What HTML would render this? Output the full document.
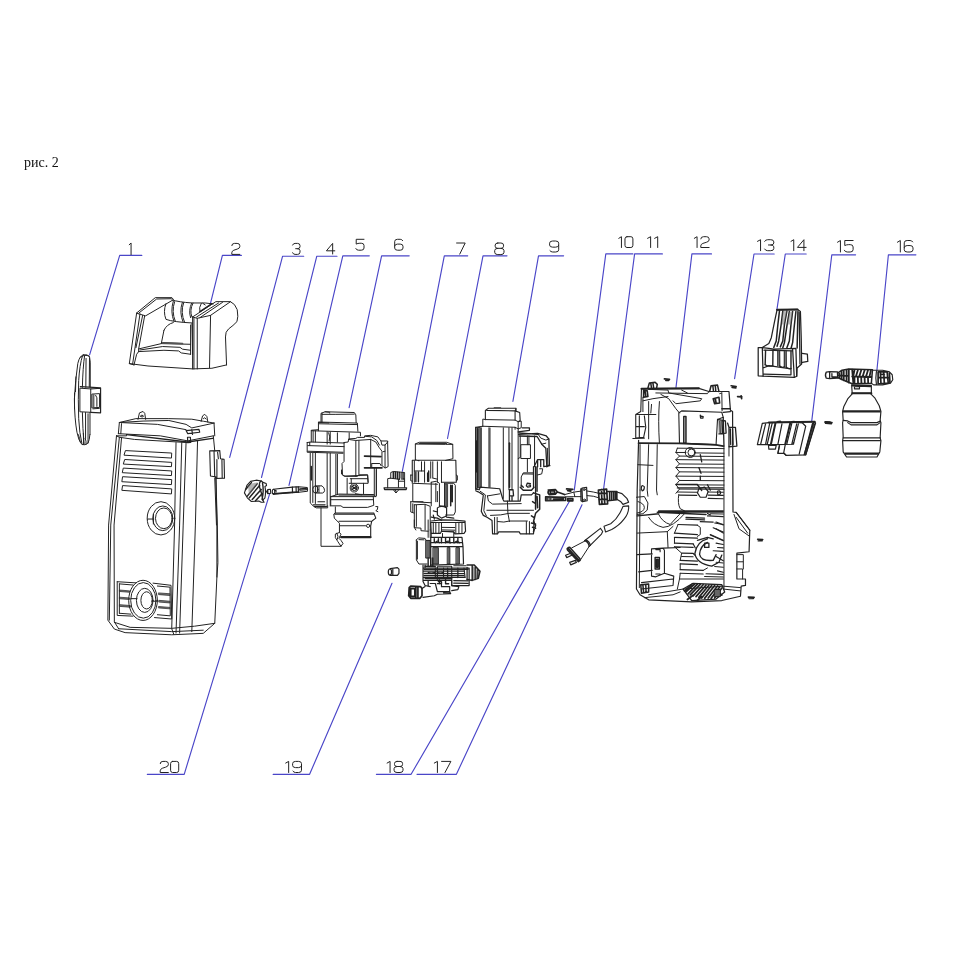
<!DOCTYPE html>
<html><head><meta charset="utf-8"><title>рис. 2</title>
<style>
html,body{margin:0;padding:0;background:#fff;}
body{width:976px;height:976px;overflow:hidden;position:relative;font-family:"Liberation Serif",serif;}
.cap{position:absolute;left:24px;top:152.5px;will-change:transform;font-size:14px;line-height:20px;color:#111;white-space:nowrap;}
svg{position:absolute;left:0;top:0;}
.dg path{vector-effect:non-scaling-stroke;}
.p path,.p line,.p polyline,.p ellipse,.p rect,.p circle,.p polygon{vector-effect:non-scaling-stroke;}
</style></head><body>
<div class="cap">рис. 2</div>
<svg width="976" height="976" viewBox="0 0 976 976">
<g fill="none" stroke="#4a46c8" stroke-width="1.15" stroke-linecap="round" stroke-linejoin="round">
<polyline points="141.8,255.4 119.7,255.4 89.6,354.8"/>
<polyline points="241.4,255.4 222.4,255.4 210.3,304.1"/>
<polyline points="303.7,256.2 282.6,256.2 229.7,457.4"/>
<polyline points="337.0,256.2 316.8,256.2 261.5,477.5"/>
<polyline points="369.3,255.8 342.8,255.8 289.0,485.4"/>
<polyline points="409.2,255.8 381.6,255.8 349.1,407.6"/>
<polyline points="467.7,255.8 444.3,255.8 402.3,471.3"/>
<polyline points="507.0,255.8 483.0,255.8 447.5,438.5"/>
<polyline points="563.6,255.8 538.5,255.8 512.9,401.4"/>
<polyline points="632.9,253.9 605.8,253.9 574.3,490.2"/>
<polyline points="662.4,253.9 634.6,253.9 603.6,489.0"/>
<polyline points="711.5,253.9 691.9,253.9 676.0,387.4"/>
<polyline points="774.2,254.0 754.0,254.0 734.6,378.7"/>
<polyline points="806.2,254.0 785.3,254.0 776.9,309.7"/>
<polyline points="855.6,254.8 831.8,254.8 811.7,421.4"/>
<polyline points="915.9,254.8 888.4,254.8 876.9,370.2"/>
<polyline points="147.3,774.3 184.2,774.3 269.8,493.3"/>
<polyline points="273.1,774.3 309.6,774.3 392.0,583.3"/>
<polyline points="376.4,774.3 411.1,774.3 570.2,500.0"/>
<polyline points="417.0,774.3 456.4,774.3 582.0,504.8"/>
</g>
<g fill="none" stroke="#222222" stroke-width="1" stroke-linecap="round" stroke-linejoin="round" class="dg">
<path transform="translate(128.27,243.00) scale(0.9333,1.1600)" d="M1,1.5 L3,0 L3,10"/>
<path transform="translate(231.80,243.40) scale(1.3333,1.1000)" d="M0,2 Q0,0 2,0 L4,0 Q6,0 6,2 L6,3 Q6,4.5 4,5.2 L1.5,6.2 Q0,7 0,8.5 L0,10 L6,10"/>
<path transform="translate(292.60,243.40) scale(1.2333,1.1000)" d="M0,1.5 Q0.5,0 2,0 L4,0 Q6,0 6,2 L6,3 Q6,4.8 4,4.8 L2.5,4.8 M4,4.8 Q6,4.8 6,6.5 L6,8 Q6,10 4,10 L2,10 Q0.5,10 0,8.5"/>
<path transform="translate(326.40,243.40) scale(1.3333,1.0600)" d="M4.7,10 L4.7,0 L0,7 L6.3,7"/>
<path transform="translate(355.80,239.30) scale(1.3667,1.0900)" d="M6,0 L0.3,0 L0.3,4.4 Q1.5,3.6 3,3.6 L4,3.6 Q6,3.6 6,5.6 L6,8 Q6,10 4,10 L2,10 Q0.4,10 0,8.5"/>
<path transform="translate(394.70,239.30) scale(1.3833,1.0900)" d="M5.8,1.2 Q5.2,0 4,0 L2,0 Q0,0 0,2 L0,8 Q0,10 2,10 L4,10 Q6,10 6,8 L6,6.4 Q6,4.4 4,4.4 L2,4.4 Q0.3,4.4 0,6"/>
<path transform="translate(456.60,243.00) scale(1.4333,1.1100)" d="M0,0 L6,0 L2.2,10"/>
<path transform="translate(494.70,243.00) scale(1.5500,1.1600)" d="M2,0 L4,0 Q5.7,0 5.7,1.8 L5.7,2.8 Q5.7,4.6 4,4.6 L2,4.6 Q0.3,4.6 0.3,2.8 L0.3,1.8 Q0.3,0 2,0 Z M2,4.6 Q0,4.6 0,6.5 L0,8 Q0,10 2,10 L4,10 Q6,10 6,8 L6,6.5 Q6,4.6 4,4.6"/>
<path transform="translate(549.60,241.00) scale(1.5167,1.1000)" d="M0.2,8.8 Q0.8,10 2,10 L4,10 Q6,10 6,8 L6,2 Q6,0 4,0 L2,0 Q0,0 0,2 L0,3.6 Q0,5.6 2,5.6 L4,5.6 Q5.7,5.6 6,4"/>
<path transform="translate(617.48,236.70) scale(1.3202,1.0800)" d="M1,1.5 L3,0 L3,10"/>
<path transform="translate(624.98,236.70) scale(1.3202,1.0800)" d="M1.5,0 L4.5,0 Q6,0 6,2 L6,8 Q6,10 4.5,10 L1.5,10 Q0,10 0,8 L0,2 Q0,0 1.5,0 Z"/>
<path transform="translate(646.09,236.70) scale(1.5104,1.0800)" d="M1,1.5 L3,0 L3,10"/>
<path transform="translate(653.16,236.70) scale(1.5104,1.0800)" d="M1,1.5 L3,0 L3,10"/>
<path transform="translate(692.91,236.70) scale(1.3858,1.0800)" d="M1,1.5 L3,0 L3,10"/>
<path transform="translate(700.79,236.70) scale(1.3858,1.0800)" d="M0,2 Q0,0 2,0 L4,0 Q6,0 6,2 L6,3 Q6,4.5 4,5.2 L1.5,6.2 Q0,7 0,8.5 L0,10 L6,10"/>
<path transform="translate(755.97,239.70) scale(1.5262,1.1000)" d="M1,1.5 L3,0 L3,10"/>
<path transform="translate(764.64,239.70) scale(1.5262,1.1000)" d="M0,1.5 Q0.5,0 2,0 L4,0 Q6,0 6,2 L6,3 Q6,4.8 4,4.8 L2.5,4.8 M4,4.8 Q6,4.8 6,6.5 L6,8 Q6,10 4,10 L2,10 Q0.5,10 0,8.5"/>
<path transform="translate(789.62,239.70) scale(1.3764,1.1000)" d="M1,1.5 L3,0 L3,10"/>
<path transform="translate(797.44,239.70) scale(1.3764,1.1000)" d="M4.7,10 L4.7,0 L0,7 L6.3,7"/>
<path transform="translate(836.04,240.50) scale(1.4607,1.1500)" d="M1,1.5 L3,0 L3,10"/>
<path transform="translate(844.34,240.50) scale(1.4607,1.1500)" d="M6,0 L0.3,0 L0.3,4.4 Q1.5,3.6 3,3.6 L4,3.6 Q6,3.6 6,5.6 L6,8 Q6,10 4,10 L2,10 Q0.4,10 0,8.5"/>
<path transform="translate(895.94,240.50) scale(1.4607,1.1500)" d="M1,1.5 L3,0 L3,10"/>
<path transform="translate(904.24,240.50) scale(1.4607,1.1500)" d="M5.8,1.2 Q5.2,0 4,0 L2,0 Q0,0 0,2 L0,8 Q0,10 2,10 L4,10 Q6,10 6,8 L6,6.4 Q6,4.4 4,4.4 L2,4.4 Q0.3,4.4 0,6"/>
<path transform="translate(160.20,761.40) scale(1.3523,1.1100)" d="M0,2 Q0,0 2,0 L4,0 Q6,0 6,2 L6,3 Q6,4.5 4,5.2 L1.5,6.2 Q0,7 0,8.5 L0,10 L6,10"/>
<path transform="translate(170.59,761.40) scale(1.3523,1.1100)" d="M1.5,0 L4.5,0 Q6,0 6,2 L6,8 Q6,10 4.5,10 L1.5,10 Q0,10 0,8 L0,2 Q0,0 1.5,0 Z"/>
<path transform="translate(284.22,761.40) scale(1.4794,1.1100)" d="M1,1.5 L3,0 L3,10"/>
<path transform="translate(292.62,761.40) scale(1.4794,1.1100)" d="M0.2,8.8 Q0.8,10 2,10 L4,10 Q6,10 6,8 L6,2 Q6,0 4,0 L2,0 Q0,0 0,2 L0,3.6 Q0,5.6 2,5.6 L4,5.6 Q5.7,5.6 6,4"/>
<path transform="translate(385.61,761.40) scale(1.4888,1.1100)" d="M1,1.5 L3,0 L3,10"/>
<path transform="translate(394.07,761.40) scale(1.4888,1.1100)" d="M2,0 L4,0 Q5.7,0 5.7,1.8 L5.7,2.8 Q5.7,4.6 4,4.6 L2,4.6 Q0.3,4.6 0.3,2.8 L0.3,1.8 Q0.3,0 2,0 Z M2,4.6 Q0,4.6 0,6.5 L0,8 Q0,10 2,10 L4,10 Q6,10 6,8 L6,6.5 Q6,4.6 4,4.6"/>
<path transform="translate(432.75,761.40) scale(1.5543,1.1100)" d="M1,1.5 L3,0 L3,10"/>
<path transform="translate(441.57,761.40) scale(1.5543,1.1100)" d="M0,0 L6,0 L2.2,10"/>
</g>
<g class="p" fill="none" stroke="#222222" stroke-width="1" stroke-linecap="round" stroke-linejoin="round">
<!-- 01_disc.svg -->
<g transform="translate(60,340) scale(0.12295)">
<path d="M190,120 Q160,125 145,190 Q125,320 117,480 Q118,640 138,750 Q150,820 178,850 Q205,860 228,838 Q240,815 243,770"/>
<path d="M190,120 Q225,115 240,135 L246,180 L246,385"/>
<path d="M182,132 Q160,200 152,330 Q146,480 152,640 Q158,760 178,842"/>
<path d="M200,128 Q186,220 182,385"/>
<path d="M212,150 L210,385 M240,150 L238,380 M168,140 Q200,112 238,132"/>
<path d="M182,590 Q184,720 196,845 M208,590 L208,800 M244,590 L244,770 M228,600 L228,838"/>
<path d="M150,770 Q160,800 165,830 M205,800 Q215,820 212,850 M190,760 L192,850"/>
<path d="M165,392 L250,398 L250,588 L165,584 Z"/>
<path d="M165,380 L268,385 L330,390 L330,592 L250,588 M250,398 L330,392" stroke-width="1.2"/>
<path d="M262,440 L322,436 L322,548 L262,552 Z M275,445 L275,548 M290,450 L300,470 L300,540 M268,560 L320,556" />
<path d="M264,442 L274,442 L274,550 L264,550 Z" fill="#666" stroke="none"/>
<path d="M118,430 L118,560 M130,300 L126,420" />
</g>

<!-- 02_handle.svg -->
<g transform="translate(120,285) scale(0.13320)">
<path d="M125,210 L265,95 L390,95 L402,110 L195,230 Z"/>
<path d="M140,212 L275,105 L385,103"/>
<path d="M125,210 L70,590 L105,600 M150,216 L95,592 M185,232 L140,480 L140,500 M170,228 L120,470"/>
<path d="M70,590 L210,608 L545,630 L690,625 L800,600"/>
<path d="M105,600 L125,520 L140,500"/>
<path d="M555,245 L555,630 M580,250 L580,630 M545,240 L545,630 M680,228 L672,620"/>
<path d="M545,240 L720,125 L830,125 L680,228 L580,250 L545,240"/>
<path d="M575,240 L740,135 M600,245 L770,130"/>
<path d="M830,125 Q865,140 880,185 Q890,240 878,275 Q850,305 815,330 Q790,350 792,390 L800,600"/>
<path d="M390,112 Q440,128 540,135 L640,135 L700,142"/>
<path d="M345,140 Q322,200 345,258 Q400,278 540,285"/>
<path d="M410,125 Q385,200 415,272 M400,122 Q376,200 404,270" />
<path d="M478,132 Q452,205 485,280 M468,131 Q442,205 474,279"/>
<path d="M548,136 Q520,190 540,240 M538,136 Q512,190 530,245"/>
<path d="M610,138 Q590,170 600,200 M622,138 L640,150"/>
<path d="M600,200 L690,140" stroke-width="1.3"/>
<path d="M330,340 Q350,295 400,282 M330,340 L310,440 L530,445 M320,432 L470,438"  />
<path d="M320,436 L470,441" stroke-width="1.6" stroke="#555"/>
<path d="M140,480 L310,440 M140,500 L330,490 L440,495 L460,510 L530,520 M150,488 L320,462 L450,468 L470,482 L530,490"/>
<path d="M530,300 L530,520 M540,290 L545,520"/>
</g>

<!-- 03_body.svg -->
<g transform="translate(100,405) scale(0.14344)">
<!-- lid -->
<path d="M135,122 L250,95 L480,95 L640,99 L720,113 L795,126"/>
<path d="M135,122 L300,112 L480,108 L600,135 L640,160 L795,126"/>
<path d="M135,122 L400,135 L600,172 M128,200 L420,215 L612,250 L790,215"/>
<path d="M135,122 L128,200 M795,126 L800,215 M150,130 L145,200"/>
<path d="M185,207 L610,258 L785,232" stroke-width="1.3"/>
<path d="M115,215 L185,215 L185,207 M115,215 L135,225 L240,240 L610,262"/>
<path d="M600,178 L690,170 L695,190 L612,200 Z M640,172 L645,205 M610,225 L630,225 L632,260 L612,262 Z" stroke-width="1.2"/>
<path d="M265,100 L275,55 L300,45 L312,58 L318,100 M282,78 Q292,60 304,78 Q294,92 282,78"/>
<path d="M705,115 L715,76 L730,65 L745,80 L752,120 M720,95 Q730,78 740,98"/>
<!-- body edges -->
<path d="M115,215 L60,837 L55,1500 L100,1562 L175,1587 L500,1602 L720,1592 L800,1522 L815,1200 L822,1100 L818,837 L808,500"/>
<path d="M135,225 L75,837 L65,1500 M150,230 L98,837 L100,1512 L130,1560"/>
<path d="M100,1515 L210,1550 L500,1557 L660,1542 L800,1522 M130,1560 L500,1580 L720,1570"/>
<path d="M530,262 L520,837 L500,1560 L515,1600 M570,262 L555,837 L530,1590 M600,262 L580,837 L555,1590 M680,250 L665,837 L640,1580"/>
<path d="M790,215 L800,320 M808,500 L815,837 L815,1200 M800,510 L812,837"/>
<!-- vents -->
<path d="M180,318 L500,335 L498,370 L170,350 Z M175,380 L500,400 L498,430 L165,412 Z M165,440 L500,460 L498,492 L158,472 Z M160,500 L500,520 L498,555 L155,535 Z M160,562 L500,585 L498,620 L155,595 Z"/>
<!-- upper circle -->
<ellipse cx="425" cy="790" rx="96" ry="116"/>
<ellipse cx="438" cy="790" rx="70" ry="86"/>
<ellipse cx="445" cy="790" rx="58" ry="72"/>
<path d="M330,795 L375,795 M372,760 L372,830"/>
<!-- side connector -->
<path d="M765,320 L835,318 L840,375 L865,378 L868,510 L810,512 L800,500 L770,495 Z M795,325 L800,500 M820,330 L825,375 M815,380 L815,510 M850,380 L852,510" stroke-width="1.1"/>
<!-- bottom grille -->
<path d="M120,1232 L250,1240 M370,1242 L495,1257 L500,1492 L380,1482 M230,1472 L120,1467 L120,1232 M135,1247 L135,1452 M135,1247 L230,1255 M135,1452 L215,1458 M400,1262 L488,1270 L490,1470 L400,1462"/>
<path d="M138,1290 L208,1296 L208,1306 L138,1300 Z M138,1340 L205,1345 L205,1356 L138,1351 Z M138,1392 L212,1398 L212,1410 L138,1404 Z M410,1310 L488,1316 L488,1328 L410,1322 Z M412,1362 L488,1368 L488,1380 L412,1374 Z M410,1405 L488,1411 L488,1421 L410,1415 Z" fill="#777" stroke-width="0.7"/>
<ellipse cx="300" cy="1362" rx="100" ry="140"/>
<ellipse cx="302" cy="1362" rx="88" ry="124"/>
<ellipse cx="312" cy="1362" rx="58" ry="84"/>
<ellipse cx="325" cy="1362" rx="40" ry="60"/>
<path d="M215,1350 L258,1350 M360,1368 L400,1368"/>
</g>

<!-- 04_knob.svg -->
<g transform="translate(235,465) scale(0.081967)" stroke-width="1.1">
<path d="M115,340 L145,250 L190,200 L260,185 L320,195 L350,215 L380,225 L385,250 L365,262 Q380,330 365,400 L340,430 L355,455 L320,455 L290,440 L200,445 L150,400 Z"/>
<path d="M320,195 Q290,210 300,270 Q330,350 340,430 M335,215 Q355,320 330,420" stroke-width="1.4"/>
<path d="M150,380 L270,230 M175,400 L300,250 M210,420 L320,300 M130,300 L200,215 M250,435 L330,350" stroke-width="1.5"/>
<path d="M160,260 Q210,210 280,215 L170,370 Z" fill="#777" stroke="none" opacity="0.55"/>
<path d="M385,325 L400,300 L432,296 L436,345 L400,350 Z M400,300 L402,350"/>
<ellipse cx="470" cy="325" rx="15" ry="30"/>
<path d="M470,295 L700,270 L775,265 L880,275 Q892,298 882,320 L780,332 L700,337 L470,355"/>
<path d="M700,270 L702,337 M745,268 L747,334 M772,266 L774,332 M790,290 L870,285 L870,302 L790,306 Z M490,310 L500,310 L500,330" stroke-width="1.2"/>
<path d="M470,350 L700,333 L775,328" stroke-width="1.4"/>
</g>

<!-- 06_pump.svg -->
<g transform="translate(300,400) scale(0.102459)">
<!-- top cap -->
<path d="M205,215 L205,130 L245,115 L530,122 L545,145 L548,222 M215,140 L350,140 L530,138 M215,128 L215,215 M245,115 L290,120 L290,128"/>
<path d="M180,300 L180,215 L560,225 L565,305 M185,232 L560,240 M180,218 L280,224" />
<path d="M110,410 L110,295 L180,290 M110,300 L590,315 L590,350 M150,300 L150,410 M265,310 L265,430 M295,312 L295,430 M365,320 L365,412 M480,320 L480,380 M128,300 L128,410"/>
<path d="M280,320 Q300,360 285,400" />
<!-- flange -->
<path d="M70,415 L110,410 L430,420 M70,415 L70,510 L420,520 M75,445 L430,455 M75,500 L420,510 M95,412 L95,445"/>
<!-- columns -->
<path d="M100,520 L100,1005 L130,1035 L160,1053 L270,1053 L270,1033 M125,520 L125,1000 M150,520 L150,1010 M265,520 L265,1035 M295,520 L295,1035 M350,530 L350,925 M365,530 L365,925" />
<path d="M110,650 L110,780" stroke-width="1.5"/>
<path d="M130,1023 L245,1023 M175,993 L240,993 M140,1040 L260,1040" stroke-width="1.2"/>
<ellipse cx="150" cy="873" rx="25" ry="35"/>
<path d="M150,838 L215,838 Q240,855 240,885 Q235,905 220,908 L150,908 M170,845 L170,900 M185,840 L185,905"/>
<path d="M205,1053 L205,1428 L400,1428"/>
<!-- right block -->
<path d="M430,415 L470,410 L475,380 L545,375 L560,365 L630,365 L630,350 L690,345 L760,360 L790,400 L855,400 L860,650 L830,665 L800,640 L800,500 L770,460 L740,410 L690,385"/>
<path d="M475,385 L545,395 L690,385 M640,355 L700,360 L750,395 L775,440 M790,400 L800,440 L830,440 L855,410 M830,440 L830,660 M810,505 L830,500"/>
<path d="M430,415 L430,600 L410,620 L415,730 L440,745 L560,745 L580,730 L660,730 L665,800"/>
<path d="M545,400 L545,745 M575,398 L575,740 M690,385 L690,650"/>
<path d="M630,547 L790,552 M630,662 L800,662" stroke-width="1.7"/>
<path d="M700,620 L780,620 L792,642 M725,662 L725,930 M745,662 L745,930 M700,625 L700,660"/>
<!-- component -->
<path d="M405,683 L405,723 L430,743 L660,733 L665,813 L480,813 M490,768 L660,768 M460,763 L460,913 M620,813 L620,913 M500,768 L500,813"/>
<circle cx="530" cy="858" r="40"/><circle cx="530" cy="858" r="26"/>
<path d="M505,840 L555,876 M555,840 L505,876" stroke-width="1.3"/>
<!-- mid band -->
<path d="M300,943 L380,918 L720,923 L740,943 M380,928 L720,928 M300,943 L740,943 M300,973 L715,973 M300,943 L300,1033 L400,1033 L420,1048 L660,1048 L720,1028 L715,943"/>
<path d="M540,915 L600,925 M745,683 L745,935"/>
<path d="M740,1040 L760,1040 L755,1070 L740,1080 L760,1090" />
<!-- lower cone -->
<path d="M345,1043 L345,1103 L330,1113 L335,1153 L385,1203 L385,1293 L345,1308 L345,1343 L370,1383 L400,1428 L420,1400 L400,1370 L380,1350 L400,1310 L385,1293"/>
<path d="M345,1103 L720,1103 M340,1115 L725,1115 M380,1183 L690,1183 M390,1228 L640,1228 M400,1333 L690,1333 M400,1343 L690,1343 M720,1103 L740,1153 L700,1183 L690,1228 L690,1343" stroke-width="1.1"/>
<path d="M400,1338 L690,1338" stroke-width="1.8"/>
<circle cx="665" cy="1228" r="16"/>
<path d="M360,1300 Q380,1330 365,1360"/>
</g>

<!-- 07_conn.svg -->
<g transform="translate(380,430) scale(0.102459)">
<path d="M40,565 L260,565 L255,582 L45,582 Z" stroke-width="1.3"/>
<path d="M75,565 L75,475 L105,470 L105,415 L130,405 L240,415 L240,560 M180,480 L180,560 M180,500 L240,500 M100,470 L180,480 M130,582 L155,615 L185,582 M150,585 L160,610"/>
<path d="M130,410 L130,470 M150,410 L150,470 M170,412 L170,475 M190,415 L190,480 M215,418 L215,480 M232,420 L232,480" stroke-width="1.5"/>
<path d="M190,420 L240,420 L240,470 L190,470 Z" fill="#777" stroke="none" opacity="0.6"/>
</g>

<!-- 08_motor.svg -->
<g transform="translate(380,430) scale(0.102459)">
<!-- top cylinder -->
<path d="M345,290 L345,135 L385,120 L650,120 L710,140 L712,280 L640,297 M385,131 L650,131 M345,137 L640,140 L710,140"/>
<path d="M315,295 L740,295 L745,510 M315,295 L315,520 L560,530 M600,510 L745,510 M345,290 L380,300" stroke-width="1.1"/>
<path d="M335,300 L335,510 M405,310 L405,400 M435,310 L435,510 M495,310 L495,470 M515,310 L515,470 M560,310 L560,510 M600,310 L600,510 M335,400 L435,400"/>
<path d="M350,410 L350,505 M375,410 L375,505 M465,420 L465,500 M475,400 L475,500" stroke-width="1.4"/>
<path d="M300,440 L315,440 M315,500 L300,495 L300,440 M745,440 L755,445 L755,490 L745,495"/>
<!-- third -->
<path d="M320,530 L320,700 L500,710 M300,700 L300,800 L330,810 M300,700 L420,700 M320,720 L320,800"/>
<path d="M630,520 L720,520 L735,540 L735,800 L720,830 L640,830 M630,520 L630,740"/>
<path d="M640,530 L660,530 L660,750 L640,750 Z" fill="#555" stroke-width="0.8"/>
<path d="M690,540 L690,740 M705,540 L705,700" stroke-width="1.5"/>
<path d="M500,510 L550,500 L580,520 L580,740 M500,510 L500,740 M545,520 L545,700 M520,470 L560,480 M560,600 L560,700" />
<path d="M335,730 L440,725 L490,745 L490,976 M335,730 L335,950 L350,976 M440,730 L440,976 M355,735 L355,940"/>
<path d="M560,760 Q600,730 650,760 L650,840 L600,860 L560,830 Z M520,790 L560,800 M500,850 L560,860 L600,880 M650,850 L720,860 M580,740 L640,745 M520,830 L530,870" stroke-width="1.2"/>
<!-- flange -->
<path d="M495,903 L830,903 L835,988 L820,1008 L730,1013 L720,993 L600,988 L590,1008 L500,1008 Z M500,888 L600,878 L720,880 L830,890 L830,903" stroke-width="1.2"/>
<path d="M520,908 L520,1003 M545,908 L545,1003 M575,908 L575,1003 M600,908 L600,988 M740,908 L740,1008 M770,908 L770,1008 M800,908 L800,1008 M600,950 L730,952 M600,975 L730,978"/>
<path d="M335,878 L335,953 L400,958 L400,983 L470,988 M470,878 L470,1048 M490,976 L490,1048 M500,1010 L500,1048 M600,990 L720,995 L720,1040 M610,1010 L610,1048"/>
<!-- piston block -->
<path d="M355,1073 L375,1053 L440,1058 L450,1078 M355,1073 L355,1268 L380,1308 L460,1308 M365,1085 L365,1260 M380,1070 L430,1072"/>
<path d="M450,1078 L490,1078 L490,1250 L450,1250 Z" fill="#666" stroke-width="1"/>
<path d="M495,1048 L800,1048 L810,1138 L815,1308 L495,1318 Z M495,1100 L805,1100 M495,1138 L810,1138" stroke-width="1.2"/>
<path d="M520,1148 L570,1148 L570,1308 L520,1308 Z M660,1148 L682,1148 L682,1308 L660,1308 Z M745,1148 L775,1148 L775,1308 L745,1308 Z" fill="#666" stroke-width="0.9"/>
<path d="M530,1060 L530,1095 M570,1060 L570,1095 M600,1055 L600,1100 M640,1055 L640,1100 M680,1055 L680,1100 M720,1055 L720,1100 M760,1055 L760,1100 M540,1100 Q560,1070 580,1100 M640,1100 Q665,1070 690,1100 M730,1100 Q750,1072 775,1100" stroke-width="1.4"/>
<path d="M495,1250 L495,1330 M515,1250 L515,1330 M470,1250 L470,1330" stroke-width="1.4"/>
<!-- valve body -->
<path d="M420,1318 L420,1478 L440,1518 L490,1528 M420,1348 L870,1348 M430,1378 L820,1378 M430,1438 L830,1438 M430,1468 L700,1468 M440,1318 L440,1348 M870,1348 L870,1518 L700,1518 L700,1478" stroke-width="1.2"/>
<path d="M850,1318 L920,1318 L976,1378 L960,1448 L900,1468 L850,1458 M900,1318 L900,1468 M930,1330 L930,1460 M955,1360 L950,1450" stroke-width="1.5"/>
<path d="M540,1348 L540,1438 M620,1348 L620,1438 M700,1348 L700,1518 M820,1348 L830,1438 M470,1390 Q500,1400 530,1390 M560,1390 Q590,1400 615,1390 M560,1330 L700,1330 L700,1348 M720,1325 L840,1325" stroke-width="1.1"/>
<path d="M490,1498 L540,1498 L560,1578 L680,1578 L690,1598 L560,1603 L530,1618 L420,1633 M440,1528 L410,1548 M600,1528 L680,1528 L680,1578 M700,1518 L770,1528 L760,1558 L700,1568 M560,1500 L600,1500 L600,1530 M620,1590 L680,1592" stroke-width="1.2"/>
<path d="M570,1480 L600,1480 L600,1500 M640,1470 L640,1500 L670,1500" stroke-width="1.4"/>
<path d="M430,1360 L860,1360 M430,1400 L820,1402 M430,1420 L820,1422 M440,1450 L700,1452 M560,1340 L560,1470 M660,1348 L660,1440 M760,1348 L760,1440 M440,1330 L540,1332 M720,1470 L860,1472 M720,1495 L860,1497 M470,1478 L470,1520 M850,1340 L850,1460 M580,1460 L580,1500 M640,1440 L640,1470" stroke-width="1.3"/>
<path d="M905,1325 L970,1385 L955,1445 L905,1462 Z" fill="#555" stroke="none" opacity="0.55"/>
<!-- inlet connector -->
<path d="M285,1538 L300,1523 L395,1528 L410,1548 L410,1618 L390,1643 L300,1643 L280,1618 Z M300,1548 L340,1548 L340,1623 L300,1623 Z M350,1530 L350,1640 M370,1530 L370,1640 M290,1545 L290,1625" stroke-width="1.7"/>
</g>

<!-- 09_housing.svg -->
<g transform="translate(470,395) scale(0.102459)">
<!-- top cap -->
<path d="M150,240 L150,150 L180,130 L450,130 L440,155 L485,170 L490,250 L470,260 M165,150 L440,155 L440,245 M235,125 L300,125 M450,130 L450,150" stroke-width="1.1"/>
<path d="M125,305 L125,235 L150,240 L440,245 L470,260 L500,255 L500,320 L470,330 L470,265 M125,305 L440,315 L470,330"/>
<!-- main body -->
<path d="M55,315 L125,305 M55,315 L55,920 M440,315 L440,335 M470,330 L470,1030"/>
<path d="M60,318 L100,316 L100,900 L60,915 Z" fill="#777" stroke-width="0.9"/>
<path d="M75,330 L75,900 M65,450 L65,750" stroke-width="1.6"/>
<path d="M110,320 L110,900 M185,320 L185,900 M325,320 L325,1010 M380,320 L380,925 M410,320 L410,925 M195,322 L195,900"/>
<path d="M385,470 L385,900" stroke-width="1.6"/>
<!-- right assembly -->
<path d="M470,360 L580,345 L580,320 L510,320 M475,385 L660,375 L745,400 L770,430 L775,680 L750,700 L740,520 L700,480 L655,405 L480,400 M480,370 L660,385" stroke-width="1.3"/>
<path d="M660,375 L690,420 L740,440 L770,430 M700,480 L740,470 M755,520 L760,690" />
<path d="M490,400 L490,610 L470,620 M500,485 L590,485 L590,620 L500,620 Z M560,400 L560,485 M560,620 L560,750 M630,400 L630,700 M575,400 L575,485"/>
<path d="M630,690 L660,630 L720,630 L720,700 L780,690 M640,700 L640,1030 M620,700 L620,900 M660,640 L660,700 M690,630 L690,700 M655,700 L655,940" stroke-width="1.3"/>
<path d="M500,900 L500,800 L520,760 L620,760 M520,770 L620,772 M680,720 L710,720 L700,770 L660,780"/>
<path d="M590,865 L560,860 L550,885 L565,900 L590,895 L590,880 L575,880" stroke-width="1.3"/>
<path d="M490,900 L520,930 L600,930 L625,900 M500,880 L520,900" stroke-width="1.4"/>
<!-- bottom -->
<path d="M55,920 L90,925 L100,900 L290,915 L320,1015 L330,1035 L490,1035 L500,975 L600,975 L620,955" stroke-width="1.2"/>
<path d="M55,935 L80,945 L130,975 L110,1135 L130,1175 L170,1195 L215,1225 L220,1355 L270,1355 L280,1335 L480,1335 L490,1355 L620,1355 L625,1235" stroke-width="1.2"/>
<path d="M100,940 L150,975 L135,1130 L160,1180 M170,985 L290,965 M170,985 L180,1035 L220,1065 L500,1060 M165,1125 L620,1125 M200,1175 L300,1170 L380,1155 L580,1155"/>
<path d="M365,1035 L370,1155 L385,1235 M270,1235 L330,1240 L385,1230 L560,1230 M240,1195 L240,1355 M265,1195 L265,1355 M550,1235 L550,1355 M580,1235 L580,1355"/>
<path d="M385,925 L420,925 L425,985 L385,985 M385,925 L385,1030 M410,985 L410,1030" stroke-width="1.3"/>
<path d="M620,955 L680,975 L680,1115 L640,1155 L620,1235 L640,1275 L620,1335 M640,975 L640,1115 M655,990 L660,1100 M610,1040 L640,1060 M600,1180 L630,1200 M600,1250 L640,1260 M610,1290 L640,1300" stroke-width="1.5"/>
</g>

<!-- 10_cable.svg -->
<g transform="translate(540,470) scale(0.102459)">
<!-- terminals -->
<path d="M80,195 L150,190 L170,215 L240,240 M85,200 Q70,225 90,240 L150,235 L170,215 M100,205 L140,205 L145,225 L100,228 Z" stroke-width="1.6"/>
<path d="M55,262 L250,266 L250,298 L55,300 Z M70,270 L70,295 M100,270 L100,295 M130,272 L230,275 M130,290 L230,292" stroke-width="1.6"/>
<path d="M60,268 L120,268 L120,296 L60,296 Z" fill="#555" stroke="none" opacity="0.7"/>
<path d="M260,185 L320,190 M270,200 L300,205 M270,280 L320,280 L320,300 L270,300 Z" stroke-width="1.8"/>
<!-- cable -->
<path d="M240,240 L330,216 L400,206 M460,205 L520,215 L570,226 M250,262 L330,260 L400,260 M460,250 L520,256 L570,270 M330,216 L340,260"/>
<path d="M410,176 L455,170 L460,300 L415,310 Z M398,185 L410,180 M398,185 L400,300 L415,310" stroke-width="1.2"/>
<ellipse cx="432" cy="192" rx="10" ry="8"/><ellipse cx="434" cy="292" rx="10" ry="8"/>
<!-- gland -->
<path d="M570,196 L650,186 L660,330 L580,336 Z M600,192 L605,334 M625,190 L632,332 M570,230 L655,225 M575,290 L658,285" stroke-width="1.7"/>
<path d="M660,210 L750,210 L750,290 L660,300 M680,210 L680,298 M700,210 L700,296 M720,210 L720,294 M738,210 L738,292" stroke-width="1.6"/>
<path d="M750,215 L800,230 L850,280 L865,315 L810,335 L790,310 L750,285" stroke-width="1.2"/>
<!-- cable bend -->
<path d="M810,355 L865,350 Q870,420 820,480 Q770,545 700,580 L640,605 L625,550 L690,525 Q745,485 780,420 Q798,385 810,355 Z" stroke-width="1.1"/>
<path d="M590,570 L612,600 L600,625 L480,745 M435,690 L590,570" stroke-width="1.1"/>
<path d="M435,690 Q470,700 480,745 M448,683 Q482,695 492,735" stroke-width="1.2"/>
<path d="M435,695 L310,760 M480,745 L390,885"/>
<path d="M275,765 L385,885 M265,772 Q262,760 290,755 L392,868 Q395,885 375,895 L268,780" stroke-width="1.5"/>
<path d="M250,832 L300,812 L310,832 L260,855 Z M290,902 L345,882 L355,902 L300,926 Z" stroke-width="1.2"/>
</g>

<!-- 12_rear.svg -->
<g transform="translate(630,370) scale(0.143451)">
<!-- outer -->
<path d="M80,130 L480,128 L550,150 L690,150 L700,280 L715,290 L718,990 L740,992 L835,1117 L830,1267 L745,1277 L745,1457 L805,1457 L805,1502 L775,1507 L770,1577 L640,1607 L430,1617 L130,1602 L70,1567 L45,1527 L50,837 L60,490" stroke-width="1.2"/>
<path d="M80,130 L480,128" stroke-width="2"/>
<path d="M80,130 L75,290 L40,310 L40,475 L95,470 M20,478 L100,475 M40,310 L180,310 M65,320 L65,470 M100,320 L110,400 L95,470 M40,395 L100,395" stroke-width="1.1"/>
<path d="M125,125 L135,90 L175,85 L190,100 L185,128 M145,95 L150,125 M160,92 L165,125 M555,150 L565,110 L610,105 L620,150 M578,115 L582,148 M595,112 L598,148" stroke-width="1.5"/>
<path d="M580,200 L620,190 L625,230 L590,235 Z M595,200 L600,230 M95,140 L120,145 L125,185 L95,190 Z M105,150 L110,180" stroke-width="1.6"/>
<path d="M130,135 L265,140 L270,160 L500,200 L490,215 L320,235 L300,215 M180,160 L540,165 L550,150 M90,215 L160,200 L265,185 M90,190 L90,290 M215,170 L270,200 L320,270 L345,300 M360,140 L400,160 M130,220 L130,480 M205,220 Q195,350 205,510 M150,240 L145,300"/>
<path d="M360,285 L640,295 L650,330 L610,345 L600,520 L345,510 L340,300 Z" stroke-width="1.1"/>
<path d="M375,325 L390,325 L390,510 L375,510 Z" stroke-width="1.5"/>
<path d="M490,315 L492,335 L508,335 L510,325 L495,322" stroke-width="1.3"/>
<path d="M60,510 L340,512 L600,522 L650,530" stroke-width="1.8"/>
<path d="M610,345 L665,355 L670,440 L620,445 M625,350 L630,440 M640,352 L645,442 M680,370 L690,400 L735,400 L745,530 L690,535 M700,410 L702,520 M715,410 L718,520 M640,270 L700,270 M650,295 L700,290 M650,330 L655,530 M690,400 L690,535" stroke-width="1.3"/>
<path d="M615,350 L640,352 L640,440 L618,445 Z" fill="#666" stroke="none" opacity="0.6"/>
<!-- upper ribs -->
<path d="M330,545 L655,548 M320,575 L390,575 M455,578 L655,580 M345,600 L655,603 M320,625 L655,628 M345,655 L655,657 M320,680 L655,683 M345,710 L655,712 M320,740 L655,742 M345,770 L655,772 M320,800 L655,802 M345,830 L655,832 M330,545 L320,575 L345,600 L320,625 L345,655 L320,680 L345,710 L320,740 L345,770 L320,800 L345,830 L320,860"/>
<path d="M490,590 L500,640 M480,680 L495,720 M490,740 L490,770 M470,800 L500,840 M540,800 L560,837" stroke-width="1.3"/>
<circle cx="420" cy="575" r="35"/><circle cx="428" cy="575" r="24"/>
<path d="M655,530 L655,1527 M690,535 L690,600 M640,160 L642,285 M625,165 L640,160 M55,660 L160,665 M130,520 L120,837 L125,880 M190,520 L185,837 L190,870 M70,837 L65,1517 M70,520 L70,837"/>
<path d="M545,850 L650,852 M545,872 L650,874 M330,850 L468,852 M345,872 L465,874 M545,895 L650,897 M560,1002 L650,1004 M540,1017 L650,1022 M590,1067 L650,1077 M600,1107 L650,1137 M560,1147 L650,1187 M600,1207 L650,1217 M610,1237 L650,1240 M600,1340 L650,1345 M590,1370 L650,1375 M530,1420 L650,1425 M520,1440 L650,1443 M360,1300 L440,1302 M440,1212 L455,1240 M440,1279 L452,1290" stroke-width="1.1"/>
<!-- marks -->
<path d="M240,62 L275,65 M250,72 L270,72 M705,110 L740,115 M712,122 L738,125 M750,185 L780,188 M775,180 L778,200 M890,1180 L925,1182 M895,1190 L920,1190 M825,1583 L865,1585 M830,1592 L860,1592" stroke-width="1.7"/>
<!-- lower -->
<path d="M45,887 L100,882 L125,927 L120,977 L90,1002 L50,1007 M55,917 Q100,930 100,960 Q98,990 50,997" />
<path d="M50,1017 L200,1002 L200,982 L650,982 M190,992 L530,1007 M200,990 L650,990" stroke-width="1.4"/>
<path d="M340,867 Q330,930 350,967 L380,982 M130,1027 Q160,1080 230,1097 Q300,1095 380,1002 M200,1007 Q225,1060 280,1077 L360,990 M50,1137 L260,1127 L265,1237 M260,1127 L300,1090"/>
<path d="M150,1247 L230,1242 L240,1257 L240,1417 L305,1437 L300,1502 L80,1527 M150,1247 L150,1437 L180,1442 L240,1417 M155,1282 L50,1287 M155,1397 L60,1407 M180,1252 L210,1252 L210,1267 M180,1422 L210,1422 M80,1482 L300,1457 M230,1242 L350,1237" stroke-width="1.1"/>
<path d="M175,1307 L205,1307 L205,1387 L175,1387 Z M185,1320 L195,1320 L195,1375 L185,1375 Z" stroke-width="1.4"/>
<path d="M75,1497 L130,1492 L130,1547 L80,1557 Z M90,1500 L95,1550 M110,1497 L112,1548" stroke-width="1.5"/>
<!-- lower ribs -->
<path d="M320,797 L470,797 M330,822 L650,822 M335,1077 L470,1082 M490,1057 L580,1060 M310,1137 L470,1147 M310,1167 L470,1172 M310,1207 L440,1212 M310,1232 L440,1237 M360,1277 L440,1279 M350,1327 L470,1332 M350,1352 L470,1357 M350,1392 L510,1397 M350,1417 L510,1422 M350,1457 L650,1457 M390,1027 L520,1032 M390,1040 L520,1045 M540,1000 L560,1010 M600,1060 L650,1080 M580,1100 L650,1130 M560,1150 L650,1190 M580,1260 L650,1265 M600,1300 L650,1330 M610,1400 L650,1410" stroke-width="1.2"/>
<path d="M470,1082 L490,1097 L490,1147 L470,1160 M335,1077 L310,1137 M310,1167 L310,1207 M310,1232 L360,1277 L350,1327 M350,1352 L350,1392 M350,1417 L345,1457 L330,1527 M510,1397 L540,1380"/>
<path d="M540,1177 Q465,1195 452,1280 Q465,1350 570,1367 M540,1202 Q490,1225 485,1285 Q495,1335 580,1327 L600,1287 M470,1187 L540,1167 L580,1177 M570,1367 L620,1340 L640,1290" stroke-width="1.3"/>
<path d="M520,1207 L550,1207 L550,1237 L520,1237 Z" stroke-width="1.3"/>
<path d="M480,827 L520,817 L545,847 L530,887 L490,887 L470,857 Z M80,812 Q90,800 100,815 Q100,840 85,842 Q75,830 80,812 M610,845 Q625,835 632,855 Q628,875 612,870 Z" stroke-width="1.2"/>
<path d="M740,992 L835,1117 M725,1007 L760,1107 L830,1157 M740,1027 L820,1137 M745,1287 L790,1287 L790,1337 L745,1337 M745,1387 L785,1387 L785,1457 M790,1337 L790,1387"/>
<path d="M130,1567 L370,1527 L650,1507 L770,1517 M100,1587 L300,1567 L350,1547 M650,1527 L770,1540" />
<path d="M370,1527 L440,1487 L640,1497 L660,1547 L600,1597 L430,1607 Z" stroke-width="1.3"/>
<path d="M380,1540 L430,1495 M405,1560 L470,1493 M440,1575 L510,1497 M480,1585 L550,1500 M520,1592 L590,1502 M565,1592 L625,1512 M390,1547 L450,1492 M420,1567 L490,1495 M460,1580 L530,1500 M500,1590 L570,1500 M545,1590 L610,1505 M590,1590 L640,1520 M400,1600 L440,1570 M470,1605 L500,1580 M600,1530 L640,1570" stroke-width="1.7"/>
<path d="M590,1530 L630,1530 L630,1580 L590,1580 Z" fill="#666" stroke-width="1"/>
</g>

<!-- 14_holder.svg -->
<g transform="translate(750,300) scale(0.081967)" stroke-width="1.25">
<path d="M330,120 L580,115 L615,140 L625,460 L630,780 L575,830 L570,930 L540,945 L160,930 L100,925 L100,580 L150,580 L230,530 L260,460 L300,260 L330,120" />
<path d="M330,120 L580,115" stroke-width="2"/>
<path d="M150,580 L160,930 M160,830 L230,800 L500,840 L500,910 M150,580 L230,590 L290,600 L560,590 M170,612 L520,620 M560,590 L570,930 M520,600 L540,940 M170,905 L500,912"/>
<path d="M360,130 L340,300 L320,500 L290,580 M400,135 L380,300 L350,500 L330,565 M450,135 L420,300 L400,500 L370,572 M480,140 L450,320 L420,520 L400,582 M520,140 L500,300 L480,500 L450,582 M560,140 L540,320 L520,520 L500,592 M585,140 L575,585" stroke-width="1.5"/>
<path d="M400,135 L450,135 L420,300 L385,300 Z M480,140 L520,140 L500,300 L455,300 Z" fill="#777" stroke="none" opacity="0.5"/>
<path d="M190,615 L185,790 M280,620 L278,800 M340,620 L340,800 M360,620 L362,805 M420,622 L420,815 M440,622 L442,820 M500,625 L500,835" stroke-width="1.4"/>
<path d="M340,620 L360,620 L362,805 L340,800 Z M420,622 L440,622 L442,820 L420,815 Z" fill="#777" stroke="none" opacity="0.55"/>
<path d="M185,790 Q230,820 278,800 M362,805 Q390,830 420,815 M442,820 Q470,845 500,835"/>
<path d="M635,650 L700,660 L705,750 L640,760"/>
<path d="M600,150 L610,780"/>
</g>

<!-- 15_clip.svg -->
<g transform="translate(750,400) scale(0.081967)" stroke-width="1.2">
<path d="M150,285 L230,275 L780,262 L800,280 L680,670 L440,675 L420,650 L340,650 L360,560 M320,545 L90,545 L150,285"/>
<path d="M230,275 L790,265" stroke-width="2"/>
<path d="M190,290 L130,540 M240,285 L190,540 M270,285 L210,540 M390,290 L340,540 M510,285 L450,535 M570,290 L510,540 M590,290 L530,540"/>
<path d="M310,285 L255,540 M490,285 L430,540" stroke-width="2"/>
<path d="M520,270 L640,280 L680,320 L600,660 M780,265 L660,670 M790,290 L680,670 M320,545 L520,540 L530,520 M360,545 L340,650 M430,545 L410,650 L440,675"/>
<path d="M765,290 L668,660" stroke-width="1.8"/>
<path d="M225,550 L320,555 L310,600 L230,600 Z"/>
<path d="M920,268 L976,270 M930,278 L970,279" stroke-width="1.8"/>
<path d="M330,262 L370,258 L380,275 M510,262 L540,260"/>
</g>

<!-- 16_bottle.svg -->
<g transform="translate(815,355) scale(0.112702)" stroke-width="1.15">
<path d="M130,148 L200,150 L200,205 L130,210 L100,206 Q85,180 100,152 Z M130,150 L130,208 M150,165 L150,195 L190,195" stroke-width="1.3"/>
<path d="M200,160 L240,135 L300,125 L510,130 L500,250 L330,255 L280,235 L200,200" stroke-width="1.5"/>
<path d="M215,165 L215,200 M235,145 L235,215 M255,140 L255,225 M280,135 L280,232 M300,130 L300,245 M330,130 L340,250 M330,190 L500,195 M350,135 L340,185 M380,135 L365,185 M410,135 L395,185 M440,135 L425,185 M470,135 L455,185 M495,140 L485,185 M350,200 L350,250 M380,200 L382,250 M410,200 L412,250 M440,200 L442,250 M470,200 L472,250 M210,180 L300,185" stroke-width="1.8"/>
<path d="M510,135 L600,135 L660,150 L685,175 L690,220 L670,250 L600,265 L520,265 L500,250 M545,145 Q535,200 545,260" />
<path d="M560,150 L640,150 L650,250 L560,255 Z M580,155 L585,250 M610,155 L615,250 M560,200 L650,200 M585,170 L615,175 M660,160 L665,245" stroke-width="1.7"/>
<path d="M325,265 L500,270 L500,340 L330,340 Z M350,280 L395,280 L395,300 L350,300 Z M335,275 L495,280"/>
<path d="M330,340 L500,340" stroke-width="2"/>
<path d="M330,345 L290,390 L255,460 L245,500 L250,580 L245,600 L250,730 L245,760 L250,860 L280,905 L550,905 L575,860 L585,760 L578,735 L585,600 L578,580 L585,500 L570,450 L530,380 L495,345"/>
<path d="M250,495 L580,495 M250,505 L580,505 M250,580 L290,585 L320,600 L550,600 L580,585 M290,600 L320,620 L550,620 L578,600 M250,735 L580,735 M250,760 L580,760 M265,870 L565,870 M270,880 L560,880"/>
<path d="M90,595 L150,600 M95,605 L145,608" stroke-width="1.8"/>
</g>

<!-- 19_small.svg -->
<g transform="translate(380,520) scale(0.102459)">
<path d="M100,475 L170,465 L185,480 L185,520 L170,540 L100,540 M125,472 L125,540" stroke-width="1.2"/>
<ellipse cx="97" cy="508" rx="16" ry="30" stroke-width="1.2"/>
</g>

</g>
</svg>
</body></html>
